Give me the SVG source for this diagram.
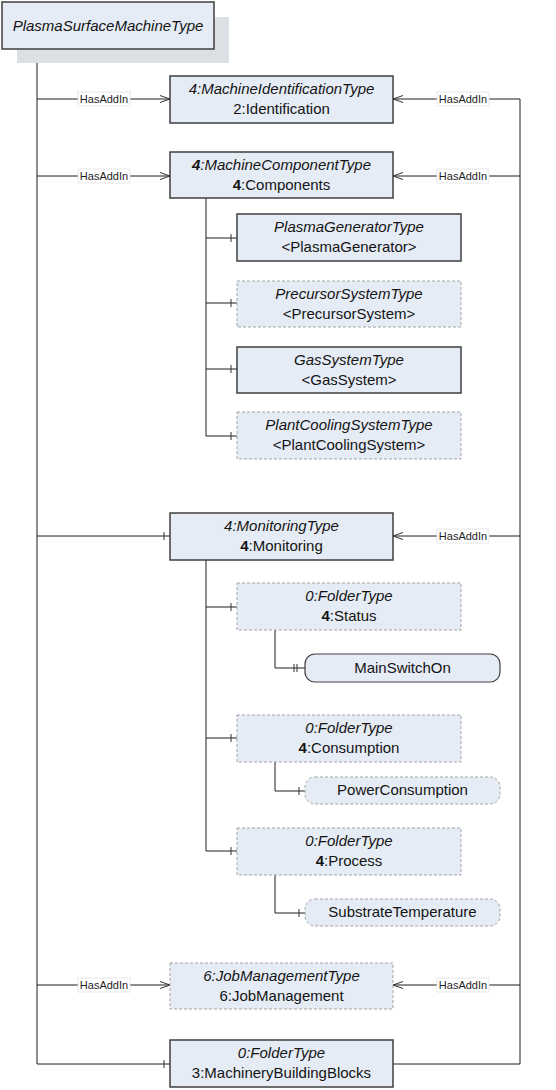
<svg xmlns="http://www.w3.org/2000/svg" width="556" height="1090" viewBox="0 0 556 1090">
<style>
.bg{fill:#ffffff}
.sol{fill:#e6ecf6;stroke:#3f3f3f;stroke-width:1.5}
.dsh{fill:#e6ecf6;stroke:#a3a3a3;stroke-width:1;stroke-dasharray:3 2}
.shadow{fill:#dcdfe4}
.t{font-family:"Liberation Sans",Arial,sans-serif;font-size:15px;fill:#141414;text-anchor:middle}
.i{font-style:italic}
.b{font-weight:bold}
.ln{fill:none;stroke:#1e1e1e;stroke-width:1}
.lbl{fill:#ffffff;stroke:#e0e0e0;stroke-width:0.8}
.lt{font-family:"Liberation Sans",Arial,sans-serif;font-size:11px;fill:#1e1e1e;text-anchor:middle}
</style>
<defs>
<marker id="arr" viewBox="0 0 10 8" refX="10" refY="4" markerWidth="10" markerHeight="8" markerUnits="userSpaceOnUse" orient="auto"><path d="M0 0.5 L10 4 L0 7.5" fill="none" stroke="#333" stroke-width="1"/></marker>
<marker id="tick" viewBox="0 0 10 10" refX="10" refY="5" markerWidth="10" markerHeight="10" markerUnits="userSpaceOnUse" orient="auto"><path d="M4 1 V9" fill="none" stroke="#333" stroke-width="1"/></marker>
<marker id="tick2" viewBox="0 0 14 10" refX="14" refY="5" markerWidth="14" markerHeight="10" markerUnits="userSpaceOnUse" orient="auto"><path d="M3 1 V9 M6 1 V9" fill="none" stroke="#333" stroke-width="1"/></marker>
</defs>
<rect class="bg" x="0" y="0" width="556" height="1090"/>

<g id="connectors">
<path class="ln" d="M37 49 V1064"/>
<path class="ln" d="M37 1064 H170" marker-end="url(#tick)"/>
<path class="ln" d="M37 99 H170" marker-end="url(#arr)"/>
<path class="ln" d="M37 176 H170" marker-end="url(#arr)"/>
<path class="ln" d="M37 536 H170" marker-end="url(#tick)"/>
<path class="ln" d="M37 985 H170" marker-end="url(#arr)"/>
<path class="ln" d="M393 1064 H520 V99"/>
<path class="ln" d="M520 99 H393" marker-end="url(#arr)"/>
<path class="ln" d="M520 176 H393" marker-end="url(#arr)"/>
<path class="ln" d="M520 536 H393" marker-end="url(#arr)"/>
<path class="ln" d="M520 985 H393" marker-end="url(#arr)"/>
<path class="ln" d="M206 198 V436"/>
<path class="ln" d="M206 238 H237" marker-end="url(#tick)"/>
<path class="ln" d="M206 303 H237" marker-end="url(#tick)"/>
<path class="ln" d="M206 369 H237" marker-end="url(#tick)"/>
<path class="ln" d="M206 436 H237" marker-end="url(#tick)"/>
<path class="ln" d="M206 560 V851"/>
<path class="ln" d="M206 607 H237" marker-end="url(#tick)"/>
<path class="ln" d="M206 738 H237" marker-end="url(#tick)"/>
<path class="ln" d="M206 851 H237" marker-end="url(#tick)"/>
<path class="ln" d="M275 630 V668 H305" marker-end="url(#tick2)"/>
<path class="ln" d="M275 762 V791 H305" marker-end="url(#tick)"/>
<path class="ln" d="M275 875 V913 H305" marker-end="url(#tick)"/>
<g id="labels">
<rect class="lbl" x="78" y="92" width="52" height="14"/><text class="lt" x="104" y="103">HasAddIn</text>
<rect class="lbl" x="78" y="169" width="52" height="14"/><text class="lt" x="104" y="180">HasAddIn</text>
<rect class="lbl" x="78" y="978" width="52" height="14"/><text class="lt" x="104" y="989">HasAddIn</text>
<rect class="lbl" x="437" y="92" width="52" height="14"/><text class="lt" x="463" y="103">HasAddIn</text>
<rect class="lbl" x="437" y="169" width="52" height="14"/><text class="lt" x="463" y="180">HasAddIn</text>
<rect class="lbl" x="437" y="529" width="52" height="14"/><text class="lt" x="463" y="540">HasAddIn</text>
<rect class="lbl" x="437" y="978" width="52" height="14"/><text class="lt" x="463" y="989">HasAddIn</text>
</g>
</g>

<g id="root">
<rect class="shadow" x="17" y="17" width="212" height="46"/>
<rect class="sol" x="2" y="2" width="212" height="47"/>
<text class="t i" x="108" y="31">PlasmaSurfaceMachineType</text>
</g>
<g id="identification">
<rect class="sol" x="170" y="76" width="223" height="47"/>
<text class="t i" x="281.5" y="94">4:MachineIdentificationType</text>
<text class="t" x="281.5" y="114">2:Identification</text>
</g>
<g id="components">
<rect class="sol" x="170" y="152" width="223" height="46"/>
<text class="t i" x="281.5" y="170"><tspan class="b">4</tspan>:MachineComponentType</text>
<text class="t" x="281.5" y="190"><tspan class="b">4</tspan>:Components</text>
</g>
<g id="plasmagenerator">
<rect class="sol" x="237" y="214" width="224" height="47"/>
<text class="t i" x="349" y="232">PlasmaGeneratorType</text>
<text class="t" x="349" y="252">&lt;PlasmaGenerator&gt;</text>
</g>
<g id="precursorsystem">
<rect class="dsh" x="237" y="281" width="224" height="46"/>
<text class="t i" x="349" y="299">PrecursorSystemType</text>
<text class="t" x="349" y="319">&lt;PrecursorSystem&gt;</text>
</g>
<g id="gassystem">
<rect class="sol" x="237" y="347" width="224" height="46"/>
<text class="t i" x="349" y="365">GasSystemType</text>
<text class="t" x="349" y="385">&lt;GasSystem&gt;</text>
</g>
<g id="plantcoolingsystem">
<rect class="dsh" x="237" y="412" width="224" height="47"/>
<text class="t i" x="349" y="430">PlantCoolingSystemType</text>
<text class="t" x="349" y="450">&lt;PlantCoolingSystem&gt;</text>
</g>
<g id="monitoring">
<rect class="sol" x="170" y="513" width="223" height="47"/>
<text class="t i" x="281.5" y="531">4:MonitoringType</text>
<text class="t" x="281.5" y="551"><tspan class="b">4</tspan>:Monitoring</text>
</g>
<g id="status">
<rect class="dsh" x="237" y="583" width="224" height="47"/>
<text class="t i" x="349" y="601">0:FolderType</text>
<text class="t" x="349" y="621"><tspan class="b">4</tspan>:Status</text>
</g>
<g id="mainswitchon">
<rect class="sol" x="305" y="654" width="195" height="28" rx="10" style="stroke-width:1.2"/>
<text class="t" x="402.5" y="673">MainSwitchOn</text>
</g>
<g id="consumption">
<rect class="dsh" x="237" y="715" width="224" height="47"/>
<text class="t i" x="349" y="733">0:FolderType</text>
<text class="t" x="349" y="753"><tspan class="b">4</tspan>:Consumption</text>
</g>
<g id="powerconsumption">
<rect class="dsh" x="305" y="777" width="195" height="27" rx="10"/>
<text class="t" x="402.5" y="795">PowerConsumption</text>
</g>
<g id="process">
<rect class="dsh" x="237" y="828" width="224" height="47"/>
<text class="t i" x="349" y="846">0:FolderType</text>
<text class="t" x="349" y="866"><tspan class="b">4</tspan>:Process</text>
</g>
<g id="substratetemperature">
<rect class="dsh" x="305" y="899" width="195" height="27" rx="10"/>
<text class="t" x="402.5" y="917">SubstrateTemperature</text>
</g>
<g id="jobmanagement">
<rect class="dsh" x="170" y="963" width="223" height="46"/>
<text class="t i" x="281.5" y="981">6:JobManagementType</text>
<text class="t" x="281.5" y="1001">6:JobManagement</text>
</g>
<g id="machinerybuildingblocks">
<rect class="sol" x="170" y="1040" width="223" height="47"/>
<text class="t i" x="281.5" y="1058">0:FolderType</text>
<text class="t" x="281.5" y="1078">3:MachineryBuildingBlocks</text>
</g>
</svg>
